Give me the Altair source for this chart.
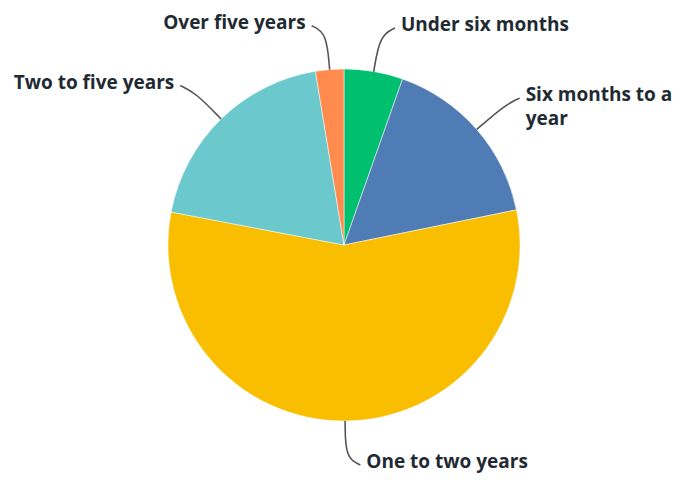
import altair as alt
import pandas as pd

categories = ["Under six months", "Six months to a year", "One to two years",
              "Two to five years", "Over five years"]
values = [5.4, 16.4, 56.2, 19.4, 2.6]
labels = ["Under six months", "Six months to a\nyear", "One to two years",
          "Two to five years", "Over five years"]
colors = ["#00BF6F", "#507CB6", "#F9BE00", "#6BC8CD", "#FF8B4F"]

df = pd.DataFrame({
    "category": categories,
    "value": values,
    "label": labels,
    "idx": list(range(len(categories))),
})

CX, CY, R, R2 = 336, 237, 176, 213

base = alt.Chart(df).transform_joinaggregate(
    total="sum(value)"
).transform_window(
    cum="sum(value)", sort=[{"field": "idx"}], frame=[None, 0]
).transform_calculate(
    mid="(datum.cum - datum.value/2) / datum.total * 2 * PI",
).transform_calculate(
    dir="sin(datum.mid) >= 0 ? 1 : -1",
    vdir="cos(datum.mid) >= 0 ? -1 : 1",
    ex=f"{CX} + {R2} * sin(datum.mid)",
    ey=f"{CY} - {R2} * cos(datum.mid)",
).transform_calculate(
    px="datum.ex + datum.dir * 15",
    py="datum.ey + datum.vdir * 7",
).transform_calculate(
    tx="datum.px + datum.dir * 6",
)

pie = alt.Chart(df).mark_arc(radius=R, stroke="white", strokeWidth=0.5).encode(
    theta=alt.Theta("value:Q", stack=True),
    order=alt.Order("idx:Q"),
    color=alt.Color("category:N", scale=alt.Scale(domain=categories, range=colors), legend=None),
    x=alt.value(CX),
    y=alt.value(CY),
)

leaders = base.transform_calculate(
    pts="[0, 1, 2]"
).transform_flatten(["pts"]).transform_calculate(
    lx=f"datum.pts == 0 ? {CX} + {R} * sin(datum.mid) : (datum.pts == 1 ? datum.ex : datum.px)",
    ly=f"datum.pts == 0 ? {CY} - {R} * cos(datum.mid) : (datum.pts == 1 ? datum.ey : datum.py)",
).mark_line(color="#555555", strokeWidth=1.6, interpolate="basis").encode(
    x=alt.X("lx:Q", scale=None, axis=None),
    y=alt.Y("ly:Q", scale=None, axis=None),
    detail="category:N",
    order="pts:Q",
)

text_style = dict(font="Open Sans", fontSize=19, fontWeight="bold", color="#1f2a33",
                  baseline="top", dy=-12, lineBreak="\n", lineHeight=24)

right_text = base.transform_filter("datum.dir > 0").mark_text(align="left", **text_style).encode(
    x=alt.X("tx:Q", scale=None, axis=None),
    y=alt.Y("py:Q", scale=None, axis=None),
    text="label:N",
)
left_text = base.transform_filter("datum.dir < 0").mark_text(align="right", **text_style).encode(
    x=alt.X("tx:Q", scale=None, axis=None),
    y=alt.Y("py:Q", scale=None, axis=None),
    text="label:N",
)

chart = alt.layer(pie, leaders, right_text, left_text).properties(
    width=665, height=465, padding=0, autosize=alt.AutoSizeParams(type="none")
).configure_view(stroke=None)

chart.save("out.html", embed_options={"renderer": "svg", "actions": False})
